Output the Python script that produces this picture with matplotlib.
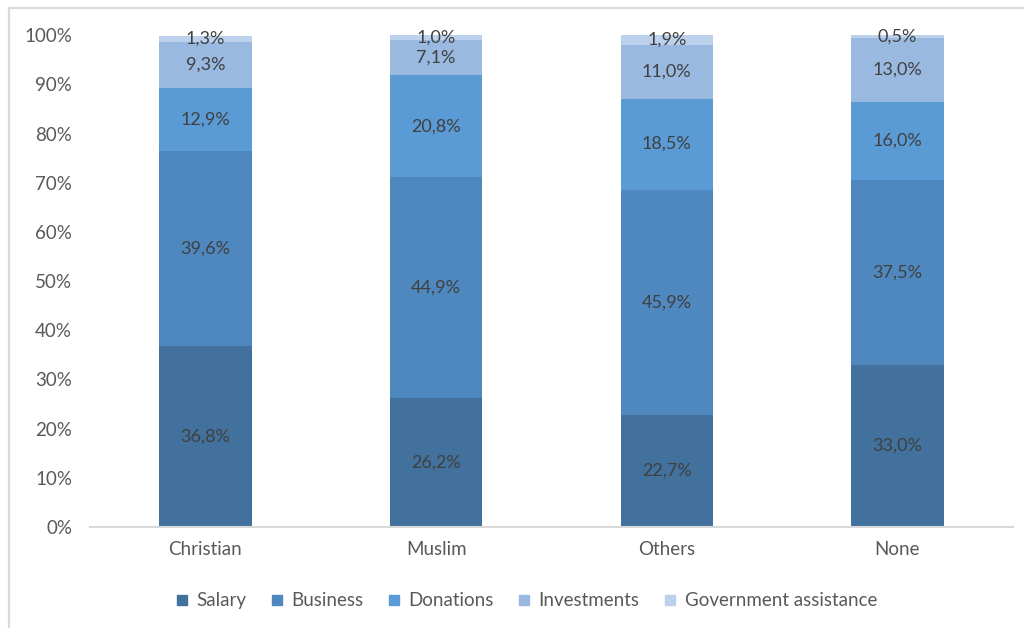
import matplotlib.pyplot as plt
from matplotlib.lines import Line2D
import numpy as np

plt.rcParams['font.family'] = ['Lato', 'DejaVu Sans']

groups = ["Christian", "Muslim", "Others", "None"]
sources = ["Salary", "Business", "Donations", "Investments", "Government assistance"]
salary = [36.8, 26.2, 22.7, 33.0]
business = [39.6, 44.9, 45.9, 37.5]
donations = [12.9, 20.8, 18.5, 16.0]
investments = [9.3, 7.1, 11.0, 13.0]
government = [1.3, 1.0, 1.9, 0.5]
colors = ["#41719c", "#4e88be", "#5b9bd5", "#9ab9e0", "#bcd1ec"]

fig = plt.figure(figsize=(10.24, 6.28), dpi=100)
ax = fig.add_axes([0.088, 0.161, 0.901, 0.783])

x = np.arange(len(groups))
bottom = np.zeros(len(groups))
for name, vals, c in zip(sources, [salary, business, donations, investments, government], colors):
    vals = np.array(vals)
    ax.bar(x, vals, 0.4, bottom=bottom, color=c, label=name, linewidth=0)
    for xi, b, v in zip(x, bottom, vals):
        ax.text(xi, b + v / 2, f"{v:.1f}%".replace(".", ","), ha="center", va="center",
                fontsize=13, color="#404040")
    bottom += vals

ax.set_xlim(-0.5, 3.5)
ax.set_ylim(0, 100)
ax.set_yticks(np.arange(0, 101, 10))
ax.set_yticklabels([f"{t}%" for t in range(0, 101, 10)])
ax.set_xticks(x)
ax.set_xticklabels(groups)
ax.tick_params(axis="both", length=0, labelsize=13.5, labelcolor="#595959")
ax.tick_params(axis="y", pad=13)
ax.tick_params(axis="x", pad=10)
for s in ["top", "right", "left"]:
    ax.spines[s].set_visible(False)
ax.spines["bottom"].set_color("#d9d9d9")
ax.spines["bottom"].set_linewidth(1.5)

handles = [Line2D([], [], marker="s", linestyle="", markersize=7, color=c) for c in colors]
fig.legend(handles, sources, loc="center", bbox_to_anchor=(0.512, 0.043), ncol=5, frameon=False,
           fontsize=13.5, labelcolor="#595959", handletextpad=0.2, columnspacing=1.1,
           handlelength=1.1)

# outer chart frame
fig.add_artist(Line2D([0.009, 0.009], [0, 0.987], color="#d9d9d9", lw=1.6, transform=fig.transFigure))
fig.add_artist(Line2D([0.009, 1.0], [0.987, 0.987], color="#d9d9d9", lw=1.6, transform=fig.transFigure))

fig.savefig("out.png", dpi=100)
